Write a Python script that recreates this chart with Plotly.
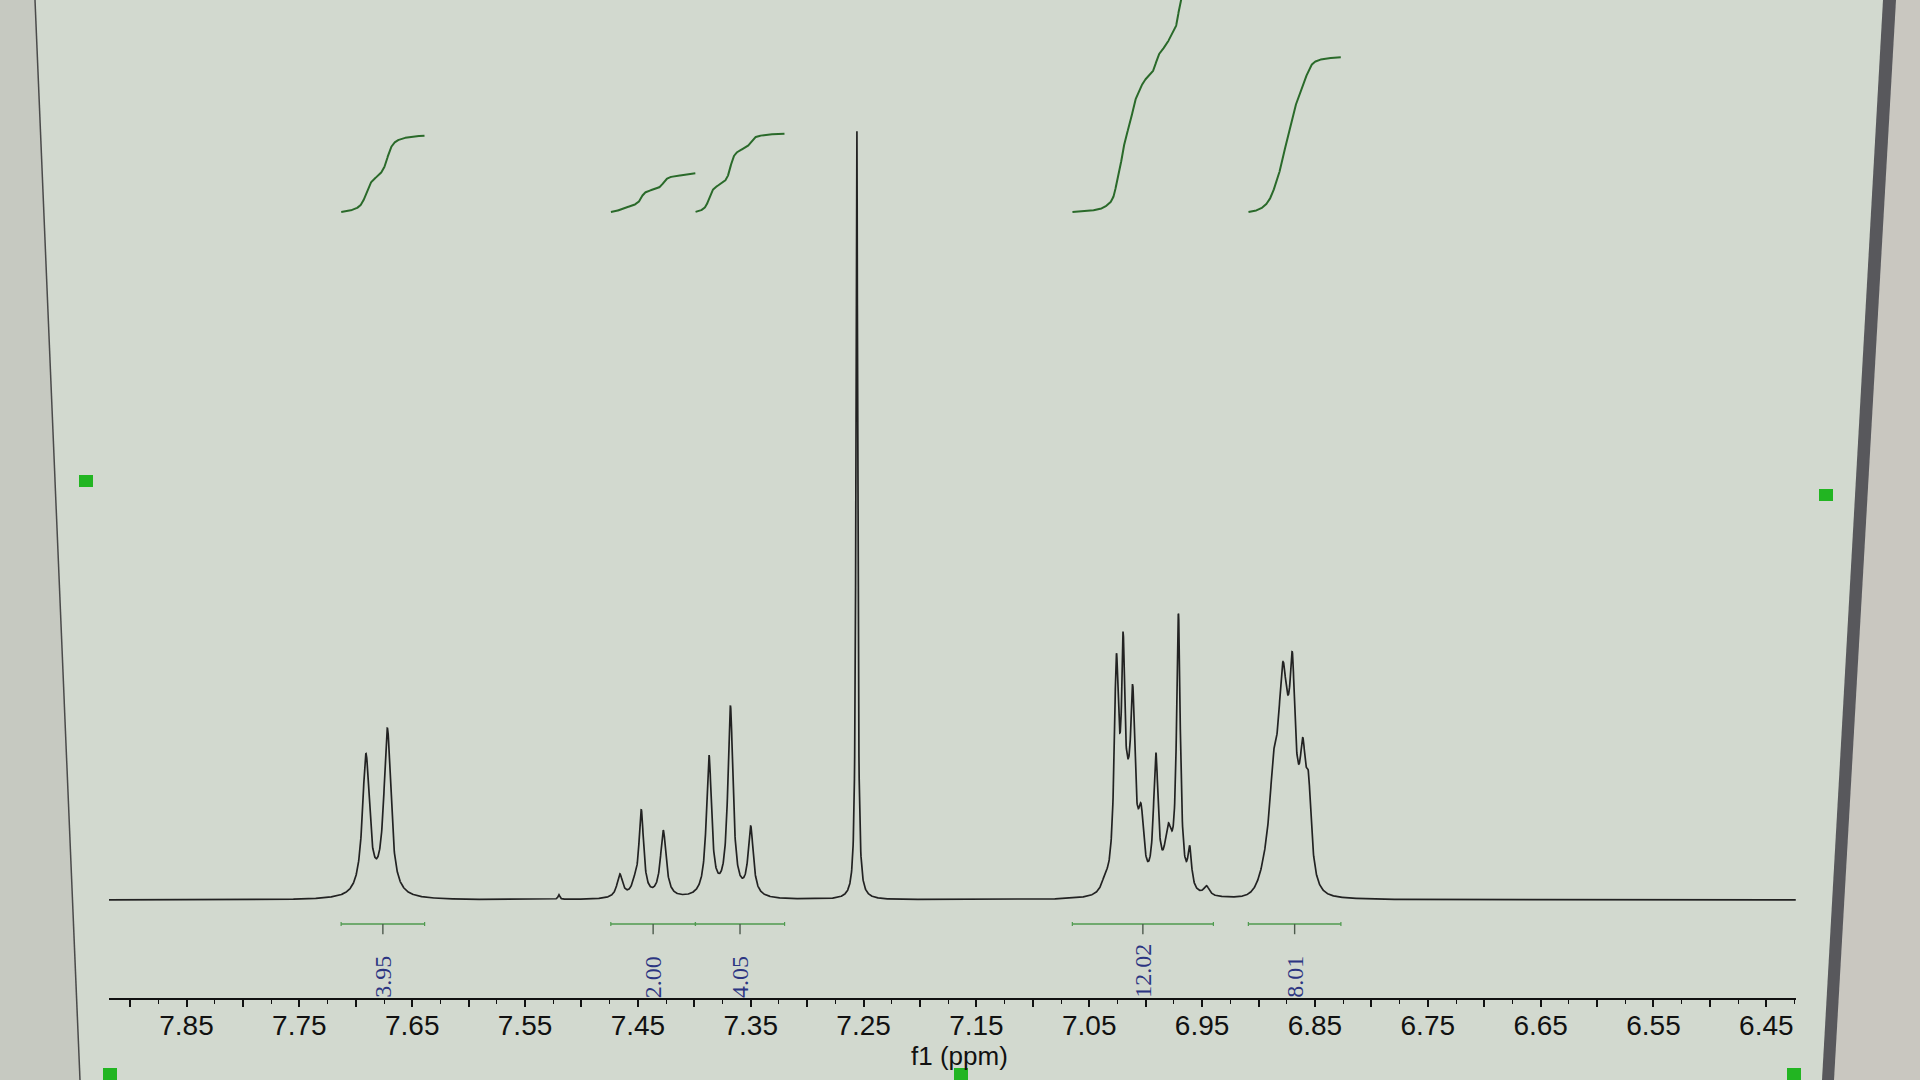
import numpy as np
import plotly.graph_objects as go

# ---------------- data ----------------
tick_labels = ["7.85", "7.75", "7.65", "7.55", "7.45", "7.35", "7.25", "7.15",
               "7.05", "6.95", "6.85", "6.75", "6.65", "6.55", "6.45"]

# resolved lines: position (ppm), height (a.u., CHCl3 line = 100), FWHM (ppm)
line_ppm = [7.691, 7.672, 7.520,
            7.466, 7.453, 7.447, 7.4275,
            7.387, 7.368, 7.350,
            7.256,
            7.036, 7.026, 7.020, 7.0115, 7.004, 6.991, 6.980, 6.971, 6.961, 6.946,
            6.887, 6.8785, 6.870, 6.8607, 6.8557]
line_height = [18.0, 21.4, 0.6,
               3.0, 1.2, 11.0, 8.6,
               18.0, 24.3, 8.8,
               100.0,
               1.5, 25.0, 20.0, 17.0, 8.0, 17.0, 7.0, 35.0, 5.0, 1.2,
               5.0, 12.0, 14.5, 11.0, 10.0]
line_width = [0.0075, 0.0075, 0.002,
              0.006, 0.006, 0.005, 0.006,
              0.0055, 0.0055, 0.0055,
              0.0018,
              0.008, 0.0045, 0.003, 0.004, 0.006, 0.005, 0.008, 0.004, 0.004, 0.006,
              0.006, 0.008, 0.005, 0.006, 0.006]

# unresolved broad humps under the 7.0 and 6.87 multiplets
hump_ppm = [7.017, 6.877]
hump_height = [11.0, 16.5]
hump_width = [0.016, 0.026]

# integration regions (ppm) and their values
int_start = [7.713, 7.474, 7.399, 7.065, 6.909]
int_end = [7.639, 7.399, 7.320, 6.940, 6.827]
int_value = [3.95, 2.00, 4.05, 12.02, 8.01]
int_label = ["3.95", "2.00", "4.05", "12.02", "8.01"]

x_title = "f1 (ppm)"

# ---------------- build spectrum ----------------
X0, X1 = 7.9187, 6.4237
ppm = np.arange(X0, X1, -0.0002)
spec = np.zeros_like(ppm)
for c, h, w in zip(line_ppm, line_height, line_width):
    spec += h / (1.0 + (2.0 * (ppm - c) / w) ** 2)
for c, h, w in zip(hump_ppm, hump_height, hump_width):
    spec += h * np.exp(-4.0 * np.log(2.0) * ((ppm - c) / w) ** 2)

# ---------------- layout geometry (px) ----------------
W, H = 1920, 1080
L_, R_, T_, B_ = 109, 124, 0, 82
PW, PH = W - L_ - R_, H - T_ - B_


def px(xp):
    return (xp - L_) / PW


def py(yp):
    return (H - B_ - yp) / PH


BG = "#d2d9cf"
SPEC_C = "#222222"
INT_C = "#2a6a2a"
BAR_C = "#4f9a4f"
LAB_C = "#2c3582"

fig = go.Figure()
fig.add_trace(go.Scatter(x=ppm, y=spec, mode="lines",
                         line=dict(color=SPEC_C, width=1.7), hoverinfo="skip"))

# integral curves (secondary axis, same scale for all)
for s, e, v in zip(int_start, int_end, int_value):
    m = (ppm <= s) & (ppm >= e)
    xs, ys = ppm[m], spec[m]
    cum = np.concatenate([[0.0], np.cumsum((ys[1:] + ys[:-1]) / 2 * np.abs(np.diff(xs)))])
    cum = cum / cum[-1] * v
    fig.add_trace(go.Scatter(x=xs, y=cum, mode="lines", yaxis="y2",
                             line=dict(color=INT_C, width=2), hoverinfo="skip"))

shapes = []
annotations = []
BAR_Y, TICK_Y = -3.08, -4.4
for s, e, lab in zip(int_start, int_end, int_label):
    mid = (s + e) / 2
    shapes.append(dict(type="line", xref="x", yref="y", x0=s, x1=e, y0=BAR_Y, y1=BAR_Y,
                       line=dict(color=BAR_C, width=1.6)))
    for xe in (s, e):
        shapes.append(dict(type="line", xref="x", yref="y", x0=xe, x1=xe,
                           y0=BAR_Y - 0.25, y1=BAR_Y + 0.25, line=dict(color=BAR_C, width=1.2)))
    shapes.append(dict(type="line", xref="x", yref="y", x0=mid, x1=mid, y0=BAR_Y, y1=TICK_Y,
                       line=dict(color="#4d5a4d", width=1.4)))
    annotations.append(dict(x=mid, xref="x", y=py(1000), yref="paper", text=lab,
                            textangle=-90, showarrow=False, xanchor="center", yanchor="bottom",
                            font=dict(family="Liberation Serif, Times New Roman, serif",
                                      size=24, color=LAB_C)))

annotations.append(dict(x=px(959), y=py(1056), xref="paper", yref="paper", text=x_title,
                        showarrow=False, xanchor="center", yanchor="middle",
                        font=dict(family="Liberation Sans, Arial, sans-serif", size=26,
                                  color="#111111")))

# screen frame of the photographed monitor
shapes.append(dict(type="path", xref="paper", yref="paper", layer="below",
                   path=f"M {px(0)},{py(0)} L {px(35)},{py(0)} L {px(80)},{py(1080)} L {px(0)},{py(1080)} Z",
                   fillcolor="#c6c9c1", line=dict(width=0)))
shapes.append(dict(type="line", xref="paper", yref="paper", x0=px(35), y0=py(0), x1=px(80), y1=py(1080),
                   line=dict(color="#4a4a4a", width=1.5)))
shapes.append(dict(type="path", xref="paper", yref="paper", layer="below",
                   path=f"M {px(1895)},{py(0)} L {px(1920)},{py(0)} L {px(1920)},{py(1080)} L {px(1832)},{py(1080)} Z",
                   fillcolor="#c9c7c0", line=dict(width=0)))
shapes.append(dict(type="path", xref="paper", yref="paper",
                   path=f"M {px(1883)},{py(0)} L {px(1896)},{py(0)} L {px(1834)},{py(1080)} L {px(1822)},{py(1080)} Z",
                   fillcolor="#58585c", line=dict(width=0)))
for cx, cy in [(86, 481), (1826, 495), (110, 1074), (961, 1074), (1794, 1074)]:
    shapes.append(dict(type="rect", xref="paper", yref="paper",
                       x0=px(cx - 7), x1=px(cx + 7), y0=py(cy - 6), y1=py(cy + 6),
                       fillcolor="#22b522", line=dict(width=0)))

major_vals = [float(t) for t in tick_labels]
mid_vals = [round(v + 0.05, 3) for v in major_vals]
tickvals = major_vals + mid_vals
ticktext = tick_labels + [""] * len(mid_vals)

fig.update_layout(
    width=W, height=H,
    margin=dict(l=L_, r=R_, t=T_, b=B_),
    paper_bgcolor=BG, plot_bgcolor=BG,
    showlegend=False,
    shapes=shapes, annotations=annotations,
    xaxis=dict(range=[X0, X1], showgrid=False, zeroline=False,
               showline=True, linecolor="#111111", linewidth=2,
               ticks="outside", ticklen=7, tickwidth=1.5, tickcolor="#111111",
               tickvals=tickvals, ticktext=ticktext, ticklabelstandoff=-6,
               tickfont=dict(family="Liberation Sans, Arial, sans-serif", size=28, color="#111111"),
               minor=dict(dtick=0.025, tick0=7.85, ticks="outside", ticklen=4,
                          tickwidth=1.2, tickcolor="#111111", showgrid=False)),
    yaxis=dict(range=[-12.6, 115.7], visible=False, fixedrange=True),
    yaxis2=dict(range=[-40.73, 10.98], visible=False, overlaying="y", fixedrange=True),
)

fig.write_html("out.html", config={"displayModeBar": False},
               post_script="document.body.style.margin='0px';")
